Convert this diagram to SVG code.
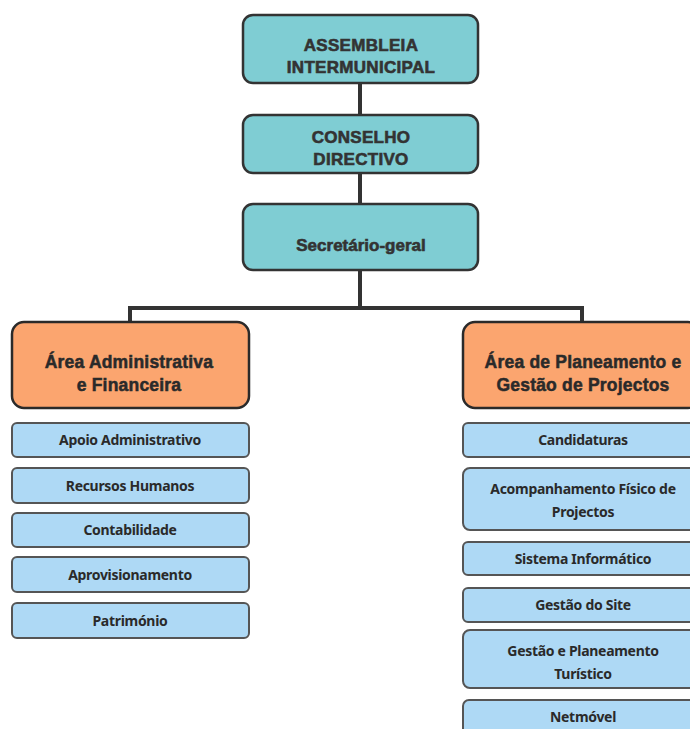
<svg xmlns="http://www.w3.org/2000/svg" width="690" height="729" viewBox="0 0 690 729">
<style>
.top{fill:#7fcdd3;stroke:#333;stroke-width:2.5}
.area{fill:#fba56f;stroke:#2a2a2a;stroke-width:2.5}
.sub{fill:#aed9f5;stroke:#555;stroke-width:2}
.t1{font-family:"Liberation Sans",Arial,sans-serif;font-weight:bold;font-size:17px;fill:#333;stroke:#333;stroke-width:0.6;text-anchor:middle;letter-spacing:0.3px}
.t2{font-family:"Liberation Sans",Arial,sans-serif;font-weight:bold;font-size:17.5px;fill:#2a2a2a;stroke:#2a2a2a;stroke-width:0.5;text-anchor:middle;letter-spacing:0.2px}
.t3{font-family:"Noto Sans",sans-serif;font-weight:bold;font-size:14px;fill:#2a2a2a;text-anchor:middle;letter-spacing:-0.3px}
.con{fill:none;stroke:#333;stroke-width:4}
</style>
<g id="connectors">
<line class="con" x1="360" y1="83" x2="360" y2="115"/>
<line class="con" x1="360" y1="173" x2="360" y2="204"/>
<polyline class="con" points="360,270 360,308"/>
<polyline class="con" points="130,323 130,308 582,308 582,323"/>
</g>
<g id="assembleia"><rect class="top" x="243" y="15" width="235" height="68" rx="10"/><text class="t1" x="361" y="51">ASSEMBLEIA</text><text class="t1" x="361" y="73">INTERMUNICIPAL</text></g>
<g id="conselho"><rect class="top" x="243" y="115" width="235" height="58" rx="10"/><text class="t1" x="361" y="143">CONSELHO</text><text class="t1" x="361" y="165">DIRECTIVO</text></g>
<g id="secretario"><rect class="top" x="243" y="204" width="235" height="66" rx="10"/><text class="t1" x="361" y="251" style="letter-spacing:0">Secretário-geral</text></g>
<g id="area-admin"><rect class="area" x="12" y="322" width="237" height="86" rx="12"/><text class="t2" x="129" y="368">Área Administrativa</text><text class="t2" x="129" y="391">e Financeira</text></g>
<g id="area-plan"><rect class="area" x="463" y="322" width="237" height="86" rx="12"/><text class="t2" x="583" y="368">Área de Planeamento e</text><text class="t2" x="583" y="391">Gestão de Projectos</text></g>
<g id="apoio"><rect class="sub" x="12" y="423" width="237" height="34" rx="5"/><text class="t3" x="130" y="445">Apoio Administrativo</text></g>
<g id="recursos"><rect class="sub" x="12" y="468" width="237" height="35" rx="5"/><text class="t3" x="130" y="491">Recursos Humanos</text></g>
<g id="contabilidade"><rect class="sub" x="12" y="513" width="237" height="34" rx="5"/><text class="t3" x="130" y="535">Contabilidade</text></g>
<g id="aprovisionamento"><rect class="sub" x="12" y="557" width="237" height="35" rx="5"/><text class="t3" x="130" y="580">Aprovisionamento</text></g>
<g id="patrimonio"><rect class="sub" x="12" y="603" width="237" height="35" rx="5"/><text class="t3" x="130" y="626">Património</text></g>
<g id="candidaturas"><rect class="sub" x="463" y="423" width="237" height="34" rx="5"/><text class="t3" x="583" y="445">Candidaturas</text></g>
<g id="acompanhamento"><rect class="sub" x="463" y="468" width="237" height="62" rx="7"/><text class="t3" x="583" y="494">Acompanhamento Físico de</text><text class="t3" x="583" y="517">Projectos</text></g>
<g id="sistema"><rect class="sub" x="463" y="542" width="237" height="33" rx="5"/><text class="t3" x="583" y="564">Sistema Informático</text></g>
<g id="site"><rect class="sub" x="463" y="588" width="237" height="34" rx="5"/><text class="t3" x="583" y="610">Gestão do Site</text></g>
<g id="turistico"><rect class="sub" x="463" y="630" width="237" height="58" rx="7"/><text class="t3" x="583" y="656">Gestão e Planeamento</text><text class="t3" x="583" y="679">Turístico</text></g>
<g id="netmovel"><rect class="sub" x="463" y="700" width="237" height="40" rx="6"/><text class="t3" x="583" y="722">Netmóvel</text></g>
</svg>
